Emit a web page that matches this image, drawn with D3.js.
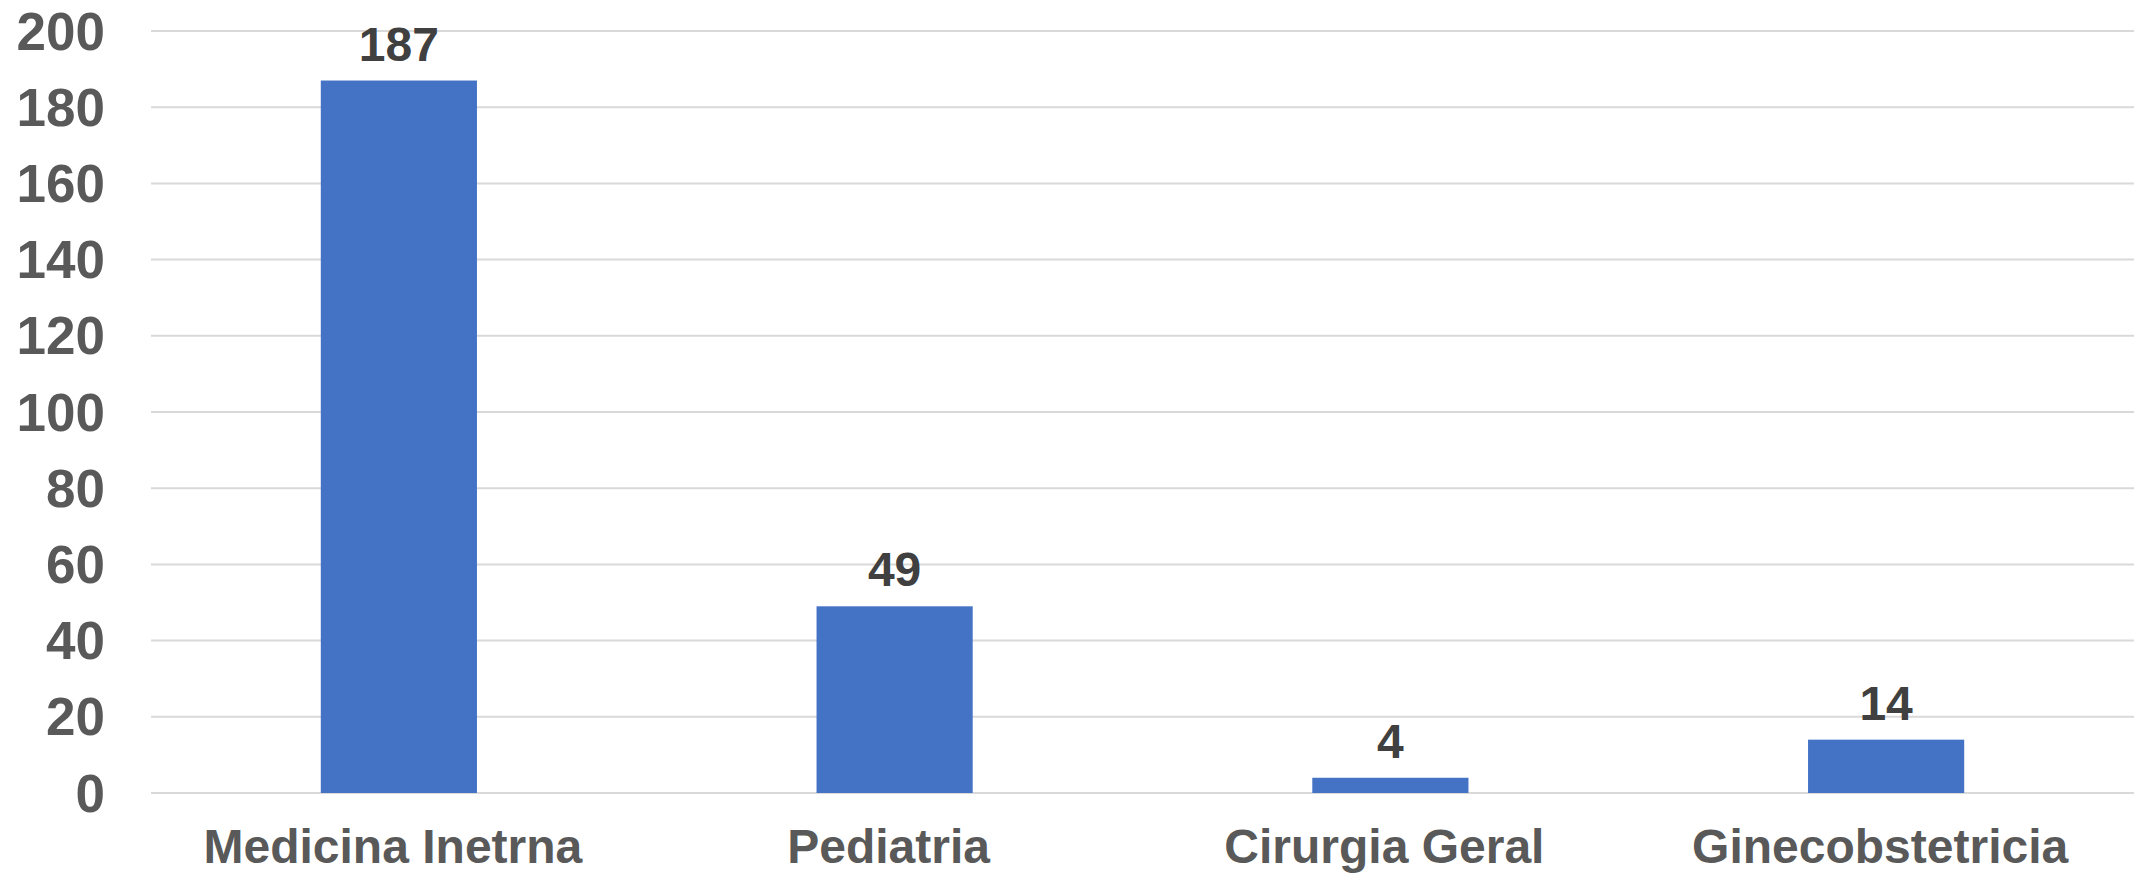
<!DOCTYPE html>
<html>
<head>
<meta charset="utf-8">
<script src="https://cdn.jsdelivr.net/npm/d3@7"></script>
<style>
  html, body { margin: 0; padding: 0; background: #fff; }
  svg { display: block; font-family: "Liberation Sans", Arial, sans-serif; font-weight: bold; }
</style>
</head>
<body>
<div id="chart"></div>
<script>
const categories = ["Medicina Inetrna", "Pediatria", "Cirurgia Geral", "Ginecobstetricia"];
const values = [187, 49, 4, 14];
const yTicks = [0, 20, 40, 60, 80, 100, 120, 140, 160, 180, 200];

const width = 2136;
const height = 875;
const margin = { top: 31, right: 2, bottom: 82, left: 151 };

const svg = d3.select("#chart")
  .append("svg")
  .attr("width", width)
  .attr("height", height);

const x = d3.scaleBand()
  .domain(categories)
  .range([margin.left, width - margin.right])
  .paddingInner(0.685)
  .paddingOuter(0.3425);

const y = d3.scaleLinear()
  .domain([0, 200])
  .range([height - margin.bottom, margin.top]);

// grid
svg.append("g")
  .selectAll("line")
  .data(yTicks)
  .join("line")
  .attr("x1", margin.left)
  .attr("x2", width - margin.right)
  .attr("y1", d => y(d))
  .attr("y2", d => y(d))
  .attr("stroke", "#d9d9d9")
  .attr("stroke-width", 2);

// y labels
svg.append("g")
  .selectAll("text")
  .data(yTicks)
  .join("text")
  .attr("x", 105)
  .attr("y", d => y(d))
  .attr("text-anchor", "end")
  .attr("dominant-baseline", "central")
  .attr("fill", "#595959")
  .attr("font-size", 53)
  .text(d => d);

// bars
svg.append("g")
  .selectAll("rect")
  .data(values)
  .join("rect")
  .attr("x", (d, i) => x(categories[i]))
  .attr("width", x.bandwidth())
  .attr("y", d => y(d))
  .attr("height", d => y(0) - y(d))
  .attr("fill", "#4472c4");

// data labels
svg.append("g")
  .selectAll("text")
  .data(values)
  .join("text")
  .attr("x", (d, i) => x(categories[i]) + x.bandwidth() / 2)
  .attr("y", d => y(d) - 20)
  .attr("text-anchor", "middle")
  .attr("fill", "#404040")
  .attr("font-size", 48)
  .text(d => d);

// category labels (sit a little left of the bar centre, like the original)
svg.append("g")
  .selectAll("text")
  .data(categories)
  .join("text")
  .attr("x", d => x(d) + x.bandwidth() / 2 - 6)
  .attr("y", 863)
  .attr("text-anchor", "middle")
  .attr("fill", "#595959")
  .attr("font-size", 48)
  .text(d => d);
</script>
</body>
</html>
